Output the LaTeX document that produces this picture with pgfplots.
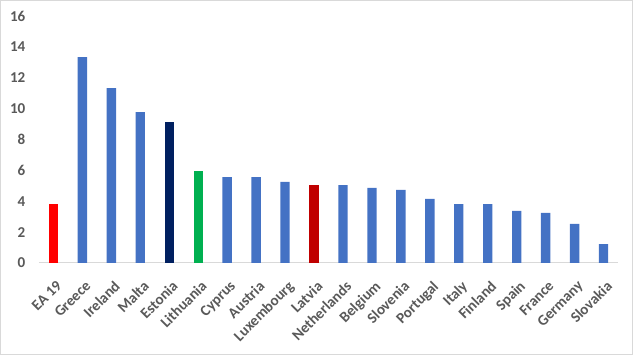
\documentclass[border=0pt]{standalone}
\usepackage{pgfplots}
\pgfplotsset{compat=1.18}
\usepackage{fontspec}
\setmainfont{Carlito}
\definecolor{txt}{RGB}{89,89,89}
\definecolor{bblue}{RGB}{68,114,196}
\definecolor{bred}{RGB}{255,0,0}
\definecolor{bnavy}{RGB}{0,32,96}
\definecolor{bgreen}{RGB}{0,176,80}
\definecolor{bdred}{RGB}{192,0,0}
\definecolor{frame}{RGB}{217,217,217}
\begin{document}
\begin{tikzpicture}
\draw[frame, line width=0.75pt] (0.4pt,0.4pt) rectangle (474.35pt,265.85pt);
\begin{axis}[
  at={(29.25pt,69pt)}, anchor=south west,
  scale only axis,
  width=434.25pt, height=185.25pt,
  xmin=-0.5, xmax=19.5, ymin=0, ymax=16,
  ytick={0,2,...,16},
  xtick={0,...,19},
  xticklabels={EA 19,Greece,Ireland,Malta,Estonia,Lithuania,Cyprus,Austria,Luxembourg,Latvia,Netherlands,Belgium,Slovenia,Portugal,Italy,Finland,Spain,France,Germany,Slovakia},
  axis x line*=bottom,
  axis y line*=left,
  x axis line style={frame, line width=0.75pt, -},
  y axis line style={draw=none, -},
  major tick length=0pt,
  tick label style={font=\bfseries\fontsize{11.3}{13}\selectfont, text=txt},
  yticklabel style={anchor=east, inner sep=0pt, xshift=-10pt},
  xticklabel style={xshift=1.5pt, yshift=-11pt, rotate=45, anchor=north east, inner sep=1pt},
  ybar, bar width=7pt, bar shift=0pt,
  every axis plot/.append style={draw=none},
  /pgf/number format/assume math mode=true,
  clip=false,
]
\addplot[fill=bred] coordinates {(0,3.82)};
\addplot[fill=bblue] coordinates {(1,13.34) (2,11.33) (3,9.78) (6,5.57) (7,5.57) (8,5.25) (10,5.05) (11,4.86) (12,4.73) (13,4.15) (14,3.82) (15,3.82) (16,3.37) (17,3.24) (18,2.53) (19,1.23)};
\addplot[fill=bnavy] coordinates {(4,9.13)};
\addplot[fill=bgreen] coordinates {(5,5.96)};
\addplot[fill=bdred] coordinates {(9,5.05)};
\end{axis}
\end{tikzpicture}
\end{document}
